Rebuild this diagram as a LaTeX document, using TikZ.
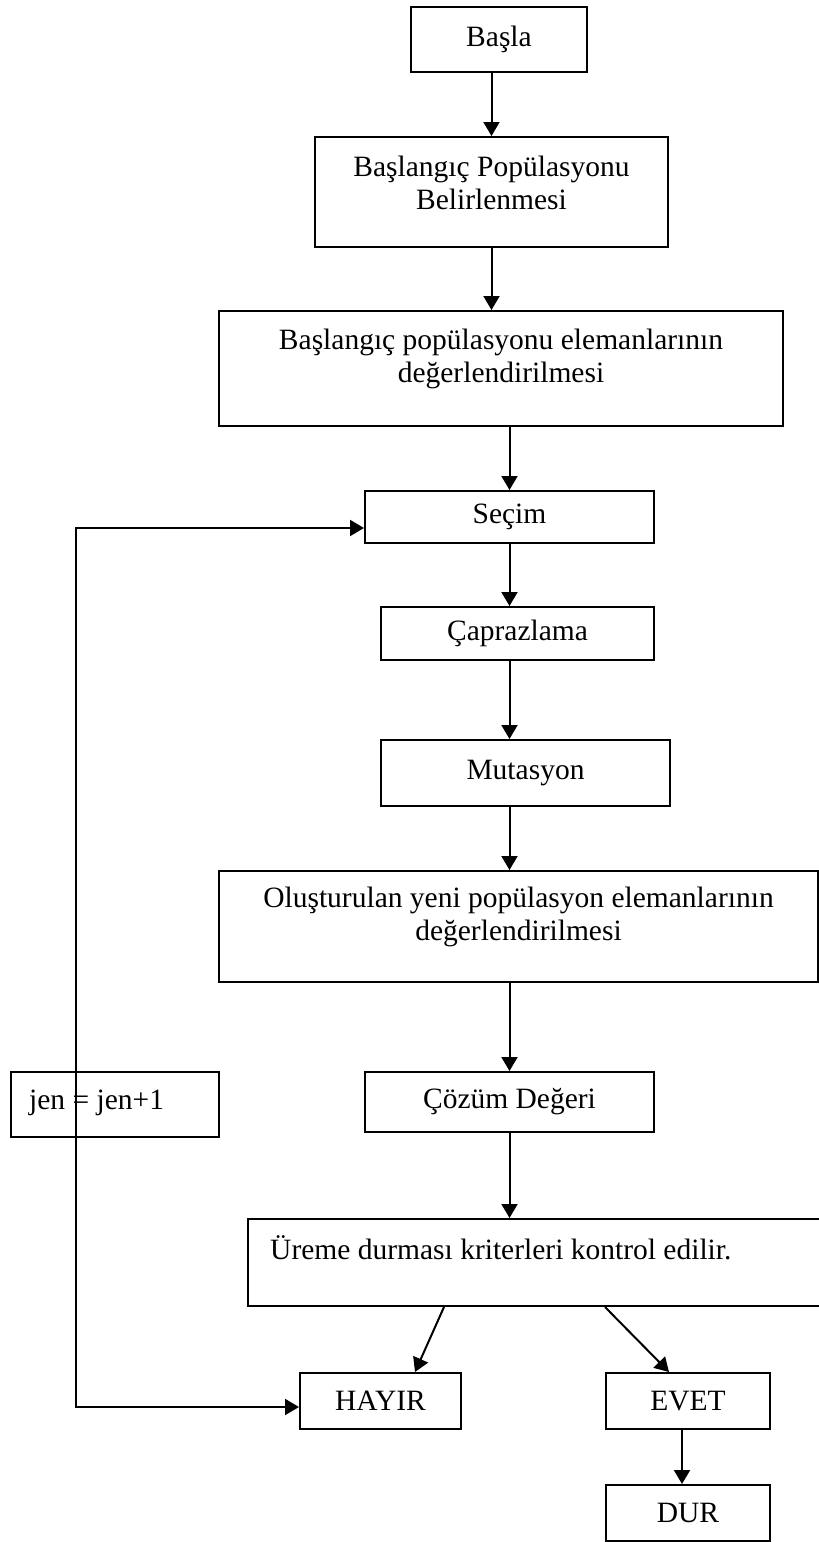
\documentclass[tikz,border=0pt]{standalone}
\usepackage{fontspec}
\setmainfont{Liberation Serif}
\usetikzlibrary{arrows.meta}
\begin{document}
\begin{tikzpicture}[x=1pt,y=-1pt,
  box/.style={draw=black, line width=2pt, rectangle, inner sep=0pt},
  txt/.style={inner sep=0pt, align=center, font=\fontsize{29.5}{33}\selectfont},
  arr/.style={draw=black, line width=2pt, -{Triangle[length=14pt,width=16pt]}},
  both/.style={draw=black, line width=2pt, {Triangle[length=14pt,width=16pt]}-{Triangle[length=14pt,width=16pt]}}]
\useasboundingbox (0,0) rectangle (819,1542);

% process boxes
\node[box, minimum width=176pt, minimum height=65pt] (basla) at (499,39.5) {};
\node[txt] (baslat) at (basla.center) {Başla};

\node[box, minimum width=353pt, minimum height=110pt] (pop) at (491.5,192) {};
\node[txt] (popt) at ([yshift=9pt]pop.center) {Başlangıç Popülasyonu\\Belirlenmesi};

\node[box, minimum width=564pt, minimum height=115pt] (ev1) at (501,368.5) {};
\node[txt] (ev1t) at ([yshift=10pt]ev1.center) {Başlangıç popülasyonu elemanlarının\\değerlendirilmesi};

\node[box, minimum width=289pt, minimum height=52pt] (secim) at (509.5,517) {};
\node[txt] (secimt) at (secim.center) {Seçim};

\node[box, minimum width=273pt, minimum height=53pt] (capr) at (517.5,633.5) {};
\node[txt] (caprt) at (capr.center) {Çaprazlama};

\node[box, minimum width=289pt, minimum height=66pt] (mut) at (525.5,773) {};
\node[txt] (mutt) at (mut.center) {Mutasyon};

\node[box, minimum width=599pt, minimum height=111pt] (ev2) at (518.5,926.5) {};
\node[txt] (ev2t) at ([yshift=10pt]ev2.center) {Oluşturulan yeni popülasyon elemanlarının\\değerlendirilmesi};

\node[box, minimum width=289pt, minimum height=60pt] (cozum) at (509.5,1102) {};
\node[txt] (cozumt) at (cozum.center) {Çözüm Değeri};

\node[box, minimum width=208pt, minimum height=65pt] (jen) at (115,1104.5) {};
\node[txt, anchor=west] (jent) at (29,1103) {jen = jen+1};

\node[box, minimum width=590pt, minimum height=87pt] (ureme) at (543,1262.5) {};
\node[txt, anchor=west] (uremet) at (270,1248) {Üreme durması kriterleri kontrol edilir.};

\node[box, minimum width=161pt, minimum height=56pt] (hayir) at (380.5,1401) {};
\node[txt] (hayirt) at (hayir.center) {HAYIR};

\node[box, minimum width=164pt, minimum height=56pt] (evet) at (688,1401) {};
\node[txt] (evett) at (evet.center) {EVET};

\node[box, minimum width=164pt, minimum height=56pt] (dur) at (688,1513) {};
\node[txt] (durt) at (dur.center) {DUR};

% main flow
\draw[arr] (basla.south -| pop.north) -- (pop.north);
\draw[arr] (pop.south) -- (pop.south |- ev1.north);
\draw[arr] (ev1.south -| secim.north) -- (secim.north);
\draw[arr] (secim.south) -- (secim.south |- capr.north);
\draw[arr] (capr.south -| secim.south) -- (mut.north -| secim.south);
\draw[arr] (mut.south -| secim.south) -- (ev2.north -| secim.south);
\draw[arr] (ev2.south -| cozum.north) -- (cozum.north);
\draw[arr] (cozum.south) -- (cozum.south |- ureme.north);

% decision branches
\draw[arr] ([xshift=197pt]ureme.south west) -- ([xshift=34.5pt]hayir.north);
\draw[arr] ([xshift=358pt]ureme.south west) -- ([xshift=-19pt]evet.north);
\draw[arr] ([xshift=-6pt]evet.south) -- ([xshift=-6pt]dur.north);

% loop back to selection
\coordinate (lo) at (76,1407);
\coordinate (hi) at (76,528);
\draw[both] (hayir.west |- lo) -- (lo) -- (hi) -- (secim.west |- hi);
\end{tikzpicture}
\end{document}
